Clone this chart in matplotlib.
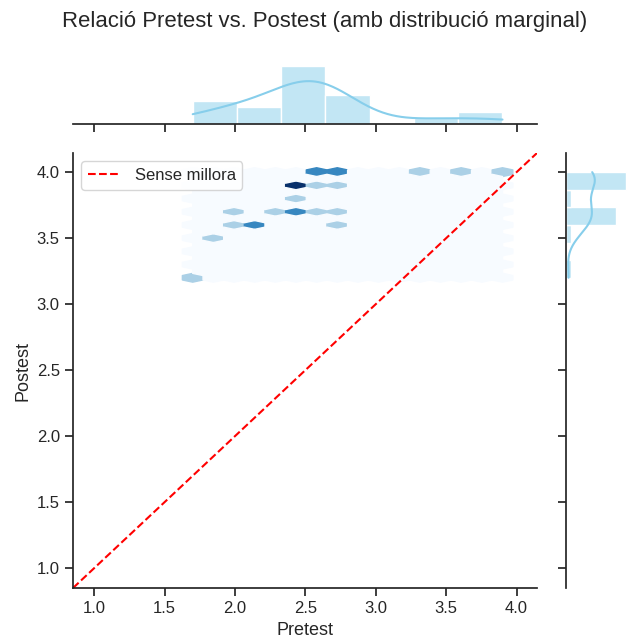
import numpy as np
import matplotlib
matplotlib.use('Agg')
import matplotlib.pyplot as plt
import seaborn as sns

# pretest / postest scores (one entry per student)
pretest = [1.7, 1.85, 2.0, 2.0, 2.15, 2.15, 2.3,
           2.45, 2.45, 2.45, 2.45, 2.45, 2.45,
           2.6, 2.6, 2.6, 2.6,
           2.7, 2.7, 2.7, 2.7, 2.7,
           3.3, 3.6, 3.9]
postest = [3.2, 3.5, 3.7, 3.6, 3.6, 3.6, 3.7,
           3.7, 3.7, 3.8, 3.9, 3.9, 3.9,
           3.7, 3.9, 4.0, 4.0,
           3.7, 3.6, 3.9, 4.0, 4.0,
           4.0, 4.0, 4.0]

title = 'Relació Pretest vs. Postest (amb distribució marginal)'
diag_label = 'Sense millora'

sns.set_theme(style='ticks')
plt.rcParams['font.family'] = ['Liberation Sans', 'DejaVu Sans']
plt.rcParams['xtick.labelsize'] = 12
plt.rcParams['ytick.labelsize'] = 12
plt.rcParams['axes.labelsize'] = 13
plt.rcParams['legend.fontsize'] = 12

W, H = 627, 638
fig = plt.figure(figsize=(W / 100, H / 100), dpi=100)


def box(x0, y0, x1, y1):
    # pixel box (top-left origin) -> figure fraction rect
    return [x0 / W, 1 - y1 / H, (x1 - x0) / W, (y1 - y0) / H]


ax = fig.add_axes(box(73, 153, 537, 588))
ax_top = fig.add_axes(box(73, 63, 537, 124), sharex=ax)
ax_right = fig.add_axes(box(566, 153, 629, 588), sharey=ax)

ax.hexbin(pretest, postest, gridsize=15, cmap='Blues')

sns.histplot(x=pretest, ax=ax_top, bins=7, kde=True, color='skyblue')
sns.histplot(y=postest, ax=ax_right, bins=6, kde=True, color='skyblue')

lims = [0.85, 4.145]
ax.plot(lims, lims, color='red', linestyle='--', label=diag_label)
ax.set_xlim(lims)
ax.set_ylim(lims)
ax.set_xticks(np.arange(1.0, 4.01, 0.5))
ax.set_yticks(np.arange(1.0, 4.01, 0.5))
ax.set_xlabel('Pretest')
ax.set_ylabel('Postest')
ax.legend(loc='upper left')
sns.despine(ax=ax)

ax_top.tick_params(axis='x', labelbottom=False)
ax_top.yaxis.set_visible(False)
sns.despine(ax=ax_top, left=True)

ax_right.tick_params(axis='y', labelleft=False)
ax_right.xaxis.set_visible(False)
sns.despine(ax=ax_right, bottom=True)

fig.text(0.517, 1 - 22 / H, title, ha='center', va='center', fontsize=15.9)

fig.savefig('out.png', dpi=100)
